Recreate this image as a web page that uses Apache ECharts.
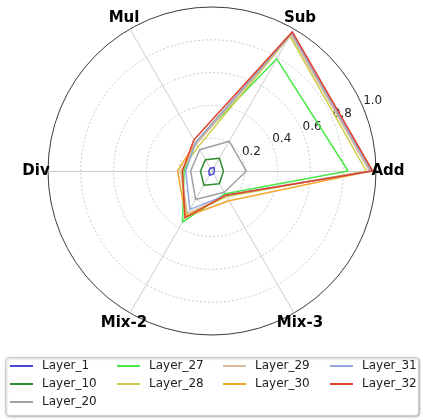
<!DOCTYPE html>
<html>
<head>
<meta charset="utf-8">
<script src="https://cdn.jsdelivr.net/npm/echarts@6/dist/echarts.min.js"></script>
<style>html,body{margin:0;padding:0;background:#fff;}#c{width:423px;height:420px;}</style>
</head>
<body>
<div id="c"></div>
<script>
// Axis categories (counter-clockwise from the right)
var categories = ['Add', 'Sub', 'Mul', 'Div', 'Mix-2', 'Mix-3'];
var radialTicks = [0.2, 0.4, 0.6, 0.8, 1.0];
var layerNames = ['Layer_1', 'Layer_10', 'Layer_20', 'Layer_27', 'Layer_28', 'Layer_29', 'Layer_30', 'Layer_31', 'Layer_32'];
// Values per layer, in the order of categories
var layer1  = [0.015, 0.025, 0.02, 0.02, 0.03, 0.02];
var layer10 = [0.07, 0.09, 0.08, 0.07, 0.10, 0.09];
var layer20 = [0.21, 0.21, 0.15, 0.13, 0.20, 0.15];
var layer27 = [0.83, 0.79, 0.20, 0.17, 0.36, 0.16];
var layer28 = [0.94, 0.95, 0.17, 0.19, 0.31, 0.18];
var layer29 = [0.96, 0.96, 0.19, 0.19, 0.30, 0.17];
var layer30 = [0.97, 0.97, 0.20, 0.21, 0.32, 0.21];
var layer31 = [0.97, 0.97, 0.20, 0.16, 0.27, 0.17];
var layer32 = [0.98, 0.98, 0.22, 0.18, 0.33, 0.17];
var layerValues = [layer1, layer10, layer20, layer27, layer28, layer29, layer30, layer31, layer32];
var layerColors = ['#4848d0', '#2e8b2e', '#a0a0a0', '#48e848', '#cccc44', '#dcbc9c', '#f0a830', '#90a8dc', '#e0402c'];
// legend columns (matplotlib fills column by column)
var legendColumns = [['Layer_1', 'Layer_10', 'Layer_20'], ['Layer_27', 'Layer_28'], ['Layer_29', 'Layer_30'], ['Layer_31', 'Layer_32']];
var legendLefts = [10, 117, 223, 330];

var FONT = 'DejaVu Sans';
var C = [212, 171], R = 164;

var chart = echarts.init(document.getElementById('c'), null, {renderer: 'canvas'});

var series = layerNames.map(function (n, i) {
  return {
    type: 'radar', name: n, symbol: 'none',
    lineStyle: {width: 1.5, color: layerColors[i]},
    itemStyle: {color: layerColors[i]},
    data: [{value: layerValues[i], name: n}],
    z: 3
  };
});

var legends = legendColumns.map(function (col, k) {
  return {
    orient: 'vertical', left: legendLefts[k], top: 359, padding: 0,
    data: col, icon: 'rect', itemWidth: 23, itemHeight: 2, itemGap: 4,
    textStyle: {fontFamily: FONT, fontSize: 12, color: '#222', lineHeight: 14, padding: [0, 0, 0, 4]},
    z: 10
  };
});

chart.setOption({
  animation: false,
  backgroundColor: '#fff',
  graphic: [{
    type: 'rect', left: 5, top: 357, z: 1,
    shape: {width: 413, height: 58, r: 3},
    style: {fill: '#fff', stroke: '#cccccc', lineWidth: 1, shadowBlur: 2, shadowOffsetX: 1, shadowOffsetY: 1, shadowColor: 'rgba(0,0,0,0.25)'}
  }],
  legend: legends,
  radar: {
    center: C, radius: R, startAngle: 0, shape: 'circle', splitNumber: 5,
    indicator: categories.map(function (c) { return {name: c, min: 0, max: 1}; }),
    nameGap: 12,
    axisName: {color: '#000', fontFamily: FONT, fontWeight: 'bold', fontSize: 15, align: 'center', verticalAlign: 'middle'},
    axisLine: {lineStyle: {color: '#cccccc', width: 1}},
    axisTick: {show: false},
    axisLabel: {show: false},
    splitLine: {lineStyle: {color: '#cccccc', width: 1, type: [2, 2]}},
    splitArea: {show: false}
  },
  polar: {center: C, radius: R},
  angleAxis: {
    type: 'value', min: 0, max: 360, startAngle: 22.5,
    axisLine: {show: true, lineStyle: {color: '#444', width: 1}},
    axisTick: {show: false}, axisLabel: {show: false}, splitLine: {show: false}
  },
  radiusAxis: {
    type: 'value', min: 0, max: 1, interval: 0.2,
    axisLine: {show: false}, axisTick: {show: false}, splitLine: {show: false},
    axisLabel: {
      margin: 1, align: 'left', verticalAlign: 'bottom', fontFamily: FONT, fontSize: 12, color: '#222',
      formatter: function (v) { return radialTicks.indexOf(Math.round(v * 10) / 10) >= 0 && v > 0 ? v.toFixed(1) : ''; }
    }
  },
  series: series
});
</script>
</body>
</html>
